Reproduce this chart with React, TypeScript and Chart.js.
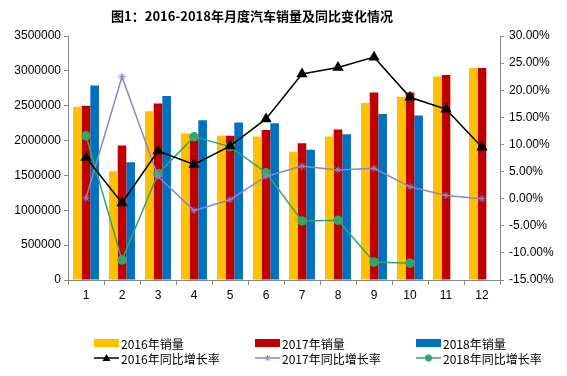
import { useEffect, useRef } from 'react';
import { Chart, registerables } from 'chart.js';

Chart.register(...registerables);

const months = ['1', '2', '3', '4', '5', '6', '7', '8', '9', '10', '11', '12'];
const sales2016 = [2484000, 1560000, 2420000, 2100000, 2070000, 2060000, 1840000, 2060000, 2540000, 2630000, 2920000, 3040000];
const sales2017 = [2498000, 1930000, 2530000, 2090000, 2070000, 2150000, 1960000, 2160000, 2690000, 2690000, 2940000, 3040000];
const sales2018 = [2790000, 1690000, 2640000, 2290000, 2260000, 2250000, 1870000, 2090000, 2380000, 2360000, null, null];
const growth2016 = [7.6, -0.8, 8.8, 6.3, 9.7, 14.7, 23.0, 24.2, 26.1, 18.7, 16.5, 9.5];
const growth2017 = [0.1, 22.5, 4.1, -2.2, -0.2, 4.1, 6.0, 5.3, 5.6, 2.2, 0.6, 0.0];
const growth2018 = [11.6, -11.3, 4.6, 11.4, 9.6, 4.8, -4.1, -4.0, -11.7, -11.9, null, null];

const titleText = '图1：2016-2018年月度汽车销量及同比变化情况';
const FONT = "'Liberation Sans', 'Noto Sans CJK SC', sans-serif";
const CJK = "'Noto Sans CJK SC', 'Liberation Sans', sans-serif";

const YELLOW = '#FFC000';
const RED = '#C00000';
const BLUE = '#0070C0';
const BLACK = '#000000';
const PURPLE = '#8888C8';
const GREEN = '#35A56A';

const legendItems = [
  { text: '2016年销量', kind: 'box', color: YELLOW },
  { text: '2017年销量', kind: 'box', color: RED },
  { text: '2018年销量', kind: 'box', color: BLUE },
  { text: '2016年同比增长率', kind: 'line', color: BLACK, marker: 'triangle' },
  { text: '2017年同比增长率', kind: 'line', color: PURPLE, marker: 'cross' },
  { text: '2018年同比增长率', kind: 'line', color: GREEN, marker: 'circle' },
];

const decorPlugin = {
  id: 'decor',
  afterDraw(chart: any) {
    const ctx = chart.ctx as CanvasRenderingContext2D;
    ctx.save();
    // title
    ctx.fillStyle = '#000';
    ctx.font = `bold 13px ${CJK}`;
    ctx.textAlign = 'center';
    ctx.textBaseline = 'middle';
    ctx.fillText(titleText, 252, 16);
    // legend
    const cols = [94, 255, 416];
    const rows = [343, 358];
    ctx.font = `12px ${CJK}`;
    ctx.textAlign = 'left';
    legendItems.forEach((it, i) => {
      const x = cols[i % 3];
      const y = rows[Math.floor(i / 3)];
      if (it.kind === 'box') {
        ctx.fillStyle = it.color;
        ctx.fillRect(x, y - 4, 25, 8);
      } else {
        ctx.strokeStyle = it.color;
        ctx.lineWidth = 1.5;
        ctx.beginPath();
        ctx.moveTo(x, y);
        ctx.lineTo(x + 25, y);
        ctx.stroke();
        const cx = x + 12.5;
        ctx.fillStyle = it.color;
        if (it.marker === 'triangle') {
          ctx.beginPath();
          ctx.moveTo(cx, y - 4);
          ctx.lineTo(cx + 4, y + 3);
          ctx.lineTo(cx - 4, y + 3);
          ctx.closePath();
          ctx.fill();
        } else if (it.marker === 'circle') {
          ctx.beginPath();
          ctx.arc(cx, y, 3.5, 0, Math.PI * 2);
          ctx.fill();
        } else {
          ctx.lineWidth = 1;
          ctx.beginPath();
          ctx.moveTo(cx - 2.5, y - 2.5);
          ctx.lineTo(cx + 2.5, y + 2.5);
          ctx.moveTo(cx + 2.5, y - 2.5);
          ctx.lineTo(cx - 2.5, y + 2.5);
          ctx.moveTo(cx, y - 3);
          ctx.lineTo(cx, y + 3);
          ctx.stroke();
        }
      }
      ctx.fillStyle = '#000';
      ctx.fillText(it.text, x + 27, y + 1);
    });
    ctx.restore();
  },
};

export default function App() {
  const ref = useRef<HTMLCanvasElement | null>(null);

  useEffect(() => {
    if (!ref.current) return;
    const chart = new Chart(ref.current, {
      type: 'bar',
      data: {
        labels: months,
        datasets: [
          { type: 'bar', label: '2016年销量', data: sales2016, backgroundColor: YELLOW, yAxisID: 'y', order: 2, categoryPercentage: 0.72, barPercentage: 1.0 } as any,
          { type: 'bar', label: '2017年销量', data: sales2017, backgroundColor: RED, yAxisID: 'y', order: 2, categoryPercentage: 0.72, barPercentage: 1.0 } as any,
          { type: 'bar', label: '2018年销量', data: sales2018, backgroundColor: BLUE, yAxisID: 'y', order: 2, categoryPercentage: 0.72, barPercentage: 1.0 } as any,
          { type: 'line', label: '2016年同比增长率', data: growth2016, borderColor: BLACK, backgroundColor: BLACK, borderWidth: 1.5, pointStyle: 'triangle', pointRadius: 5, yAxisID: 'y1', order: 0 } as any,
          { type: 'line', label: '2017年同比增长率', data: growth2017, borderColor: PURPLE, backgroundColor: PURPLE, borderWidth: 1.5, pointStyle: 'star', pointRadius: 3.5, pointBorderWidth: 1, yAxisID: 'y1', order: 0 } as any,
          { type: 'line', label: '2018年同比增长率', data: growth2018, borderColor: GREEN, backgroundColor: GREEN, borderWidth: 1.5, pointStyle: 'circle', pointRadius: 4, yAxisID: 'y1', order: 0, spanGaps: false } as any,
        ],
      },
      options: {
        responsive: false,
        animation: false,
        layout: { padding: { top: 36, bottom: 68, left: 0, right: 0 } },
        plugins: {
          legend: { display: false },
          title: { display: false },
          tooltip: { enabled: false },
        },
        scales: {
          x: {
            afterFit: (s: any) => { s.height = 28; },
            grid: { drawOnChartArea: false, drawTicks: true, tickLength: 5, color: '#888' },
            border: { color: '#888' },
            ticks: { color: '#000', font: { family: FONT, size: 12 }, padding: 3, maxRotation: 0 },
          },
          y: {
            position: 'left',
            min: 0,
            max: 3500000,
            afterFit: (s: any) => { s.width = 68; },
            grid: { drawOnChartArea: false, drawTicks: true, tickLength: 4, color: '#888' },
            border: { color: '#888' },
            ticks: { stepSize: 500000, color: '#000', font: { family: FONT, size: 12 }, padding: 3, callback: (v: any) => String(v) },
          },
          y1: {
            position: 'right',
            min: -15,
            max: 30,
            afterFit: (s: any) => { s.width = 67; },
            grid: { drawOnChartArea: false, drawTicks: true, tickLength: 4, color: '#888' },
            border: { color: '#888' },
            ticks: { stepSize: 5, color: '#000', font: { family: FONT, size: 12 }, padding: 5, callback: (v: any) => Number(v).toFixed(2) + '%' },
          },
        },
      } as any,
      plugins: [decorPlugin],
    });
    return () => chart.destroy();
  }, []);

  return (
    <div style={{ position: 'fixed', left: 0, top: 0, width: 567, height: 376, background: '#fff' }}>
      <canvas ref={ref} width={567} height={376} style={{ display: 'block' }} />
    </div>
  );
}
